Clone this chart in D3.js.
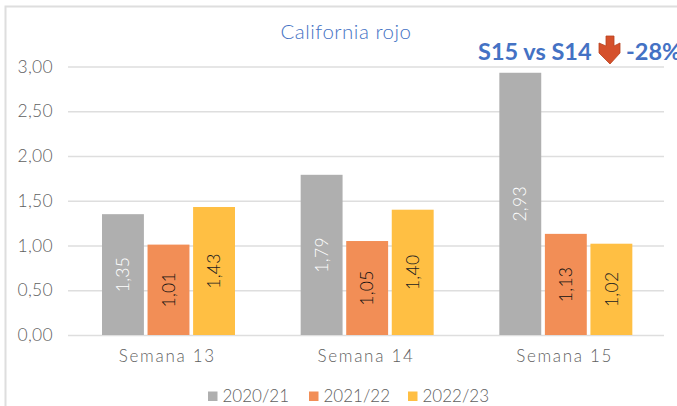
<!DOCTYPE html>
<html><head><meta charset="utf-8">
<script src="https://cdn.jsdelivr.net/npm/d3@7/dist/d3.min.js"></script>
<style>html,body{margin:0;padding:0;background:#fff;overflow:hidden}svg{display:block}
text{font-family:Lato,sans-serif}</style></head><body>
<div id="chart"></div>
<script>
const categories = ["Semana 13","Semana 14","Semana 15"];
const seriesNames = ["2020/21","2021/22","2022/23"];
const values2020 = [1.35,1.79,2.93];
const values2021 = [1.01,1.05,1.13];
const values2022 = [1.43,1.40,1.02];
const colors = ["#AFAFAF","#F28E56","#FFBF43"];
const labelColors = ["#fff","#111","#222"];
const yTicks = [0,0.5,1,1.5,2,2.5,3];
const fmt = v => v.toFixed(2).replace(".",",");
const W=677,H=406;
const svg=d3.select("#chart").append("svg").attr("width",W).attr("height",H);
const y=d3.scaleLinear().domain([0,3]).range([335,66.5]);
const x=d3.scaleBand().domain(categories).range([68,664]);
const x1=d3.scaleBand().domain(seriesNames).range([34,167]).paddingInner(0.08);
// frame
svg.append("path").attr("d",`M5.5,${H}V6.5H${W}`).attr("fill","none").attr("stroke","#DEDEDE").attr("stroke-width",2);
// grid + axis
const yAxis=d3.axisLeft(y).tickValues(yTicks).tickFormat(fmt).tickSize(-(664-68)).tickPadding(15);
const gy=svg.append("g").attr("transform","translate(68,0)").call(yAxis);
gy.select(".domain").remove();
gy.selectAll(".tick line").attr("stroke","#DEDEDE").attr("stroke-width",1.5);
gy.selectAll(".tick text").attr("fill","#5F5F5F").attr("font-size",17.5).attr("font-weight",300).attr("letter-spacing",0.3);
const xAxis=d3.axisBottom(x).tickSize(0).tickPadding(15);
const gx=svg.append("g").attr("transform","translate(0,335)").call(xAxis);
gx.select(".domain").remove();
gx.selectAll(".tick text").attr("fill","#5F5F5F").attr("font-size",17).attr("font-weight",300).attr("letter-spacing",1.7);
// bars
const all=[values2020,values2021,values2022];
seriesNames.forEach((s,si)=>{
  const g=svg.append("g");
  categories.forEach((c,ci)=>{
    const v=all[si][ci], bx=x(c)+x1(s);
    g.append("rect").attr("x",bx).attr("y",y(v)).attr("width",x1.bandwidth()).attr("height",y(0)-y(v)).attr("fill",colors[si]);
    const cx=bx+x1.bandwidth()/2, cy=(y(v)+y(0))/2;
    g.append("text").attr("transform",`translate(${cx},${cy}) rotate(-90)`).attr("text-anchor","middle").attr("dy","0.35em")
      .attr("fill",labelColors[si]).attr("font-size",17.5).attr("font-weight",300).attr("letter-spacing",0.3).text(fmt(v));
  });
});
// title
svg.append("text").attr("x",346).attr("y",39).attr("text-anchor","middle").attr("fill","#4472C4").attr("font-size",20.5).attr("font-weight",300).attr("letter-spacing",0.5).text("California rojo");
svg.append("text").attr("x",478).attr("y",60).attr("fill","#4472C4").attr("font-size",23.5).attr("font-weight",700).text("S15 vs S14");
svg.append("text").attr("x",626).attr("y",60).attr("fill","#4472C4").attr("font-size",23.5).attr("font-weight",700).text("-28%");
svg.append("path").attr("d","M606,36H614V46L620,43V53L610,64L599,53V43L606,46Z").attr("fill","#D5502B").attr("stroke","#B8431F").attr("stroke-width",0.8);
// legend
const lx=[208,309,408];
seriesNames.forEach((s,i)=>{
  svg.append("rect").attr("x",lx[i]).attr("y",391.5).attr("width",9.5).attr("height",9.5).attr("fill",colors[i]);
  svg.append("text").attr("x",lx[i]+14.5).attr("y",402).attr("fill","#5F5F5F").attr("font-size",17).attr("font-weight",300).text(s);
});
</script></body></html>
